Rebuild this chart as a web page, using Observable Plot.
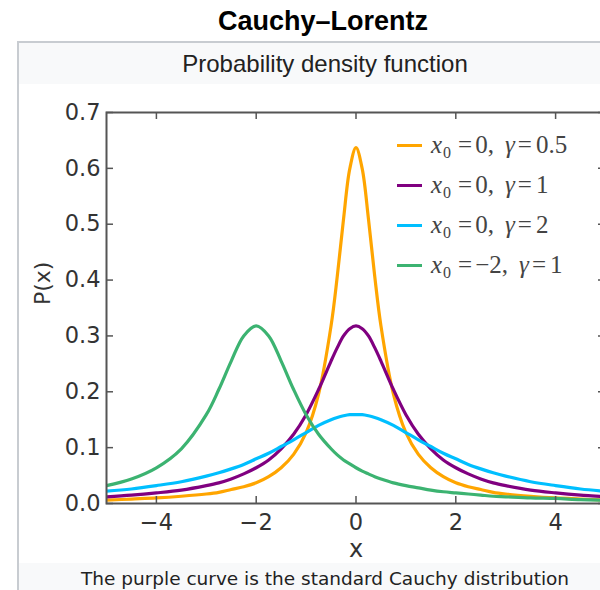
<!DOCTYPE html>
<html>
<head>
<meta charset="utf-8">
<script src="https://cdn.jsdelivr.net/npm/d3@7"></script>
<script src="https://cdn.jsdelivr.net/npm/@observablehq/plot@0.6"></script>
<style>
  html, body { margin: 0; padding: 0; background: #fff; overflow: hidden; }
  #page { position: relative; width: 600px; height: 590px; overflow: hidden; }
  #title { position: absolute; left: 17px; width: 612px; top: 5px; text-align: center;
    font: bold 27px "Liberation Sans", Arial, sans-serif; line-height: 32px; color: #000; }
  #box { position: absolute; left: 17px; top: 41px; width: 640px; height: 600px;
    border-left: 2px solid #c8ccd1; border-top: 2px solid #c8ccd1; background: #fff; }
  #header { position: absolute; left: 0; top: 0; width: 612px; height: 41px; background: #f8f9fa;
    text-align: center; font: 24px "Liberation Sans", Arial, sans-serif; line-height: 41px; color: #222; }
  #footer { position: absolute; left: 0; top: 520px; width: 612px; height: 40px; background: #f8f9fa;
    text-align: center; font: 18.5px "DejaVu Sans", sans-serif; line-height: 32px; color: #222; }
  #chart { position: absolute; left: 0; top: 90px; width: 640px; }
  #chart svg { max-width: none; }
  #legend { position: absolute; left: 397px; top: 125px; font-family: "Liberation Serif", serif;
    font-size: 25px; color: #444; }
  .row { height: 40px; display: flex; align-items: center; white-space: nowrap; }
  .swatch { width: 25px; height: 3px; margin-right: 9px; flex: none; }
  .txt sub { font-size: 16px; position: relative; top: 5px; vertical-align: baseline; margin-left: 1px; }
  .eq { margin: 0 3px 0 7px; }
  .eq2 { margin: 0 4px 0 3px; }
  .sp { display: inline-block; width: 11px; }
</style>
</head>
<body>
<div id="page">
  <div id="title">Cauchy–Lorentz</div>
  <div id="box">
    <div id="header">Probability density function</div>
    <div id="footer">The purple curve is the standard Cauchy distribution</div>
  </div>
  <div id="chart"></div>
  <div id="legend"></div>
</div>
<script>
// Sample positions along x shared by all four density curves
const xs = [-5, -4.5, -4, -3.5, -3, -2.75, -2.5, -2.25, -2, -1.75, -1.5, -1.25, -1, -0.75, -0.5, -0.375, -0.25, -0.125,
  0, 0.125, 0.25, 0.375, 0.5, 0.75, 1, 1.25, 1.5, 1.75, 2, 2.25, 2.5, 2.75, 3, 3.5, 4, 4.5, 5];

// Density values P(x) for each parameter set
const pOrange = [0.006, 0.008, 0.010, 0.013, 0.017, 0.020, 0.025, 0.030, 0.037, 0.048, 0.064, 0.088, 0.127, 0.196, 0.318, 0.407, 0.509, 0.599,
  0.637, 0.599, 0.509, 0.407, 0.318, 0.196, 0.127, 0.088, 0.064, 0.048, 0.037, 0.030, 0.025, 0.020, 0.017, 0.013, 0.010, 0.008, 0.006];
const pPurple = [0.012, 0.015, 0.019, 0.024, 0.032, 0.037, 0.044, 0.053, 0.064, 0.078, 0.098, 0.124, 0.159, 0.204, 0.255, 0.279, 0.300, 0.313,
  0.318, 0.313, 0.300, 0.279, 0.255, 0.204, 0.159, 0.124, 0.098, 0.078, 0.064, 0.053, 0.044, 0.037, 0.032, 0.024, 0.019, 0.015, 0.012];
const pCyan = [0.022, 0.026, 0.032, 0.039, 0.049, 0.055, 0.062, 0.070, 0.080, 0.090, 0.102, 0.114, 0.127, 0.140, 0.150, 0.154, 0.157, 0.159,
  0.159, 0.159, 0.157, 0.154, 0.150, 0.140, 0.127, 0.114, 0.102, 0.090, 0.080, 0.070, 0.062, 0.055, 0.049, 0.039, 0.032, 0.026, 0.022];
const pGreen = [0.032, 0.044, 0.064, 0.098, 0.159, 0.204, 0.255, 0.300, 0.318, 0.300, 0.255, 0.204, 0.159, 0.124, 0.098, 0.087, 0.078, 0.071,
  0.064, 0.058, 0.053, 0.048, 0.044, 0.037, 0.032, 0.028, 0.024, 0.021, 0.019, 0.017, 0.015, 0.013, 0.012, 0.010, 0.009, 0.007, 0.006];

const seriesNames = ["x0=0, γ=0.5", "x0=0, γ=1", "x0=0, γ=2", "x0=−2, γ=1"];
const seriesColors = ["#ffa500", "#800080", "#00bfff", "#3cb371"];
const seriesValues = [pOrange, pPurple, pCyan, pGreen];
const legendLabels = [
  ["0", "0.5"], ["0", "1"], ["0", "2"], ["−2", "1"]
];

const xTicks = [-4, -2, 0, 2, 4];
const yTicks = [0, 0.1, 0.2, 0.3, 0.4, 0.5, 0.6, 0.7];

const rows = seriesValues.flatMap((vals, i) => xs.map((x, j) => ({series: seriesNames[i], x, p: vals[j]})));

const W = 640, H = 480, mL = 106, mR = 35, mT = 22, mB = 67;
const innerW = W - mL - mR, innerH = H - mT - mB;
const tickLen = 7;
const axisColor = "#555";

const chart = Plot.plot({
  width: W,
  height: H,
  marginLeft: mL,
  marginRight: mR,
  marginTop: mT,
  marginBottom: mB,
  style: {fontFamily: "DejaVu Sans, sans-serif", fontSize: "22.5px", color: "#333", background: "transparent", overflow: "visible", maxWidth: "none"},
  x: {domain: [-5, 5], label: null},
  y: {domain: [0, 0.7], label: null},
  color: {domain: seriesNames, range: seriesColors},
  marks: [
    Plot.line(rows, {x: "x", y: "p", z: "series", stroke: "series", strokeWidth: 3.2, curve: "catmull-rom", clip: true}),
    Plot.frame({stroke: axisColor, strokeWidth: 2}),
    // inward ticks on all four sides
    Plot.tickX(xTicks, {x: d => d, stroke: axisColor, strokeWidth: 1.5, insetTop: innerH - tickLen}),
    Plot.tickX(xTicks, {x: d => d, stroke: axisColor, strokeWidth: 1.5, insetBottom: innerH - tickLen}),
    Plot.tickY(yTicks, {y: d => d, stroke: axisColor, strokeWidth: 1.5, insetRight: innerW - tickLen}),
    Plot.tickY(yTicks, {y: d => d, stroke: axisColor, strokeWidth: 1.5, insetLeft: innerW - tickLen}),
    Plot.axisX(xTicks, {tickSize: 0, tickPadding: 11, anchor: "bottom", fill: "#333"}),
    Plot.axisY(yTicks, {tickSize: 0, tickPadding: 6, anchor: "left", tickFormat: d3.format(".1f"), fill: "#333"}),
    Plot.text(["x"], {frameAnchor: "bottom", lineAnchor: "middle", dy: 46, fill: "#333", fontSize: 24}),
    Plot.text(["P(x)"], {frameAnchor: "left", dx: -64, dy: -3, rotate: -90, fill: "#333", fontSize: 22})
  ]
});
document.getElementById("chart").appendChild(chart);

// Legend: short line sample followed by the parameter text
const legend = document.getElementById("legend");
legendLabels.forEach(([x0, g], i) => {
  const row = document.createElement("div");
  row.className = "row";
  row.innerHTML = `<span class="swatch" style="background:${seriesColors[i]}"></span>` +
    `<span class="txt"><i>x</i><sub>0</sub><span class="eq">=</span>${x0},<span class="sp"></span><i>γ</i><span class="eq2">=</span>${g}</span>`;
  legend.appendChild(row);
});
</script>
</body>
</html>
